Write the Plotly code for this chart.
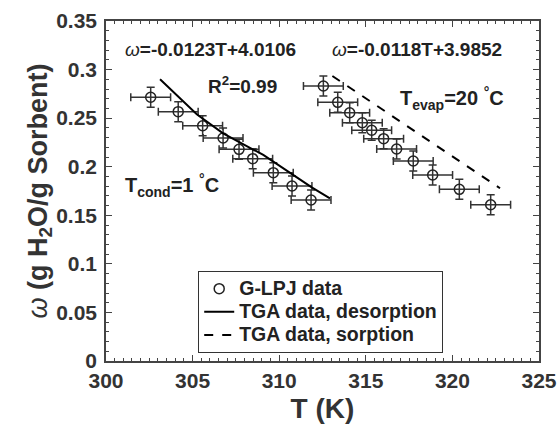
import plotly.graph_objects as go

# Desorption experimental (G-LPJ) points
des_T = [302.58, 304.17, 305.58, 306.76, 307.68, 308.47, 309.66, 310.74, 311.84]
des_w = [0.2715, 0.2567, 0.2422, 0.2296, 0.2179, 0.2083, 0.1939, 0.1802, 0.1657]
# Sorption experimental (G-LPJ) points
sor_T = [312.55, 313.38, 314.07, 314.80, 315.34, 316.03, 316.78, 317.74, 318.86, 320.40, 322.21]
sor_w = [0.2831, 0.2663, 0.2556, 0.2453, 0.2375, 0.2289, 0.2182, 0.2059, 0.1915, 0.1767, 0.1609]
T_err = 1.15
w_err = 0.0103

# TGA desorption line
tga_des_T = [303.12, 305.24, 306.76, 309.08, 311.88, 312.93]
tga_des_w = [0.290, 0.254, 0.2344, 0.2121, 0.1788, 0.1675]
# TGA sorption line
tga_sor_T = [313.07, 322.75]
tga_sor_w = [0.2934, 0.1778]

x_ticks = [300, 305, 310, 315, 320, 325]
y_ticks = [0, 0.05, 0.1, 0.15, 0.2, 0.25, 0.3, 0.35]
y_ticktext = ["0", "0.05", "0.1", "0.15", "0.2", "0.25", "0.3", "0.35"]

FONT = "Liberation Sans, Arial, sans-serif"
dark = "#222222"
axc = "#444444"
LEG = "<span style='font-size:19.5px'>%s</span>"

fig = go.Figure()

fig.add_trace(go.Scatter(
    x=des_T + sor_T, y=des_w + sor_w, mode="markers", name=LEG % "G-LPJ data",
    marker=dict(symbol="circle-open", size=10, color=dark, line=dict(width=1.5, color=dark)),
    error_x=dict(type="constant", value=T_err, color="#333333", thickness=1.5, width=4),
    error_y=dict(type="constant", value=w_err, color="#333333", thickness=1.5, width=4),
))
fig.add_trace(go.Scatter(
    x=tga_des_T, y=tga_des_w, mode="lines", name=LEG % "TGA data, desorption",
    line=dict(color="black", width=2),
))
fig.add_trace(go.Scatter(
    x=tga_sor_T, y=tga_sor_w, mode="lines", name=LEG % "TGA data, sorption",
    line=dict(color="black", width=2, dash="dash"),
))
# invisible trace to activate the mirrored top/right axes
fig.add_trace(go.Scatter(x=[x_ticks[0]], y=[y_ticks[0]], xaxis="x2", yaxis="y2", mode="markers",
                         marker=dict(opacity=0), showlegend=False, hoverinfo="skip"))

ann_font = dict(family=FONT, size=19, color=dark, weight="bold")
annotations = [
    dict(x=306.03, y=0.321, text="<span style='font-weight:normal'><i>ω</i></span>=-0.0123T+4.0106",
         xanchor="center", yanchor="middle"),
    dict(x=317.93, y=0.321, text="<span style='font-weight:normal'><i>ω</i></span>=-0.0118T+3.9852",
         xanchor="center", yanchor="middle"),
    dict(x=307.88, y=0.284, text="R<sup>2</sup>=0.99", xanchor="center", yanchor="middle"),
    dict(x=300.98, y=0.181, text="T<sub>cond</sub>=1 <sup>°</sup>C", xanchor="left", yanchor="middle",
         font=dict(family=FONT, size=20, color=dark, weight="bold")),
    dict(x=316.85, y=0.2705, text="T<sub>evap</sub>=20 <sup>°</sup>C", xanchor="left", yanchor="middle",
         font=dict(family=FONT, size=20, color=dark, weight="bold")),
]
for a in annotations:
    a.update(xref="x", yref="y", showarrow=False)
    a.setdefault("font", ann_font)

axis_common = dict(
    showgrid=False, zeroline=False, showline=True, linecolor=axc, linewidth=1.5,
    ticks="inside", ticklen=6, tickwidth=1.2, tickcolor=axc, automargin=False,
    tickfont=dict(family=FONT, size=21, color="#333333", weight="bold"),
)
minor_x = dict(dtick=0.5, ticks="inside", ticklen=3, tickcolor=axc, tickwidth=1)
minor_y = dict(dtick=0.01, ticks="inside", ticklen=3, tickcolor=axc, tickwidth=1)

fig.update_layout(
    width=558, height=424,
    margin=dict(l=106, r=19, t=21, b=63),
    paper_bgcolor="white", plot_bgcolor="white",
    showlegend=True,
    legend=dict(x=0.2125, y=0.265, xanchor="left", yanchor="top",
                bordercolor="#333333", borderwidth=1.2, bgcolor="white",
                font=dict(family=FONT, size=15.5, color=dark, weight="bold"),
                tracegroupgap=0, itemwidth=30),
    annotations=annotations,
    xaxis=dict(range=[300, 325], tickvals=x_ticks, minor=minor_x,
               title=dict(text="T (K)", font=dict(family=FONT, size=28, color="#333333", weight="bold"),
                          standoff=12),
               **axis_common),
    yaxis=dict(range=[0, 0.35], tickvals=y_ticks, ticktext=y_ticktext, minor=minor_y,
               ticklabelstandoff=3,
               title=dict(text="<span style='font-weight:normal'><i>ω</i></span> (g H<sub>2</sub>O/g Sorbent)",
                          font=dict(family=FONT, size=27, color="#333333", weight="bold"),
                          standoff=0),
               **axis_common),
    xaxis2=dict(range=[300, 325], overlaying="x", side="top", tickvals=x_ticks, minor=minor_x,
                showticklabels=False, **axis_common),
    yaxis2=dict(range=[0, 0.35], overlaying="y", side="right", tickvals=y_ticks, minor=minor_y,
                showticklabels=False, **axis_common),
)

fig.write_html("out.html", config={"displayModeBar": False},
               post_script="document.body.style.margin='0';")
